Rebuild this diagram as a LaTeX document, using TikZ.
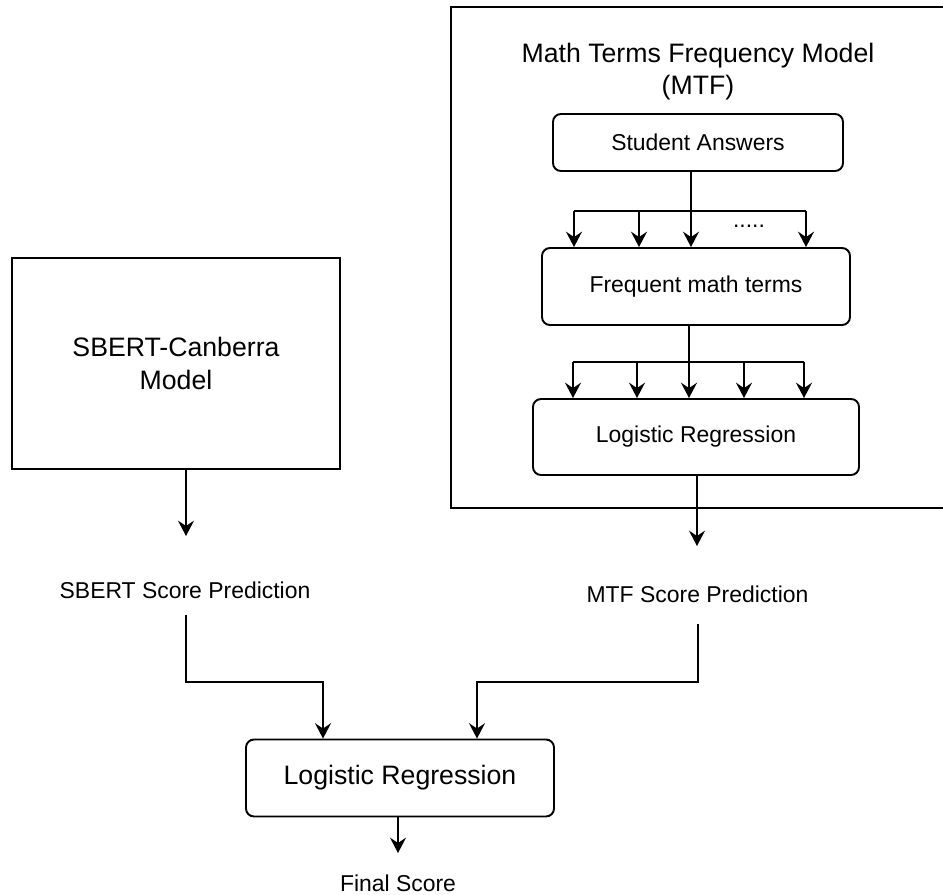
\documentclass[tikz,border=0pt]{standalone}
\usepackage{fontspec}
\setmainfont{Liberation Sans}
\usetikzlibrary{arrows.meta}
\begin{document}
\begin{tikzpicture}[x=0.75pt,y=-0.75pt,
  ln/.style={line width=1.45pt, black},
  arr/.style={ln, -{Stealth[length=11.5pt,width=12pt,inset=4pt]}},
  box/.style={draw, line width=1.45pt, inner sep=0pt, align=center},
  rbox/.style={box, rounded corners=6pt},
  bigtxt/.style={font=\fontsize{20}{24.5}\selectfont},
  smtxt/.style={font=\fontsize{17.2}{21}\selectfont},
  lbl/.style={inner sep=0pt, align=center}
]
\useasboundingbox (0,0) rectangle (943,894);

% outer MTF frame (cut by the right edge)
\draw[ln] (943,7) -- (451,7) -- (451,508) -- (943,508);

\node[lbl, bigtxt] (title) at (698,71.5) {Math Terms Frequency Model\\(MTF)};

\node[rbox, smtxt, minimum width={290*0.75pt}, minimum height={57*0.75pt}] (sa) at (698,142.5) {Student Answers};
\node[rbox, smtxt, minimum width={308*0.75pt}, minimum height={77*0.75pt}] (fm) at (696,286.5) {Frequent math terms};
\node[rbox, smtxt, minimum width={326*0.75pt}, minimum height={76*0.75pt}] (lr1) at (696,437) {Logistic Regression};

\node[box, bigtxt, minimum width={328*0.75pt}, minimum height={211*0.75pt}] (sbert) at (176,363.5) {SBERT-Canberra\\Model};

\node[lbl, smtxt] (sbpred) at (185,590) {SBERT Score Prediction};
\node[lbl, smtxt] (mtfpred) at (697.5,594) {MTF Score Prediction};

\node[rbox, bigtxt, minimum width={308*0.75pt}, minimum height={77*0.75pt}] (lr2) at (400,778) {Logistic Regression};
\node[lbl, smtxt] (final) at (398,883) {Final Score};

\node[lbl, smtxt] (dots) at (749,226) {.....};

% fan 1: Student Answers -> Frequent math terms
\coordinate (b1) at (691,211);
\draw[ln] (b1 |- sa.south) -- (b1);
\draw[ln] (574,211) -- (806,211);
\foreach \x in {574,639,691,806}
  \draw[arr] (\x,211) -- (\x,0 |- fm.north);

% fan 2: Frequent math terms -> Logistic Regression
\coordinate (b2) at (689,362);
\draw[ln] (b2 |- fm.south) -- (b2);
\draw[ln] (573,362) -- (804,362);
\foreach \x in {573,637,689,744,804}
  \draw[arr] (\x,362) -- (\x,0 |- lr1.north);

% model outputs
\coordinate (sbtip) at (186,536);
\draw[arr] (sbtip |- sbert.south) -- (sbtip);
\coordinate (mttip) at (697,546);
\draw[arr] (mttip |- lr1.south) -- (mttip);

% predictions -> final logistic regression
\coordinate (sbs) at (186,615);
\coordinate (mts) at (698,624);
\draw[arr] (sbs) |- (323,682) -- (323,0 |- lr2.north);
\draw[arr] (mts) |- (477,682) -- (477,0 |- lr2.north);

\coordinate (fstip) at (398,853);
\draw[arr] (fstip |- lr2.south) -- (fstip);
\end{tikzpicture}
\end{document}
